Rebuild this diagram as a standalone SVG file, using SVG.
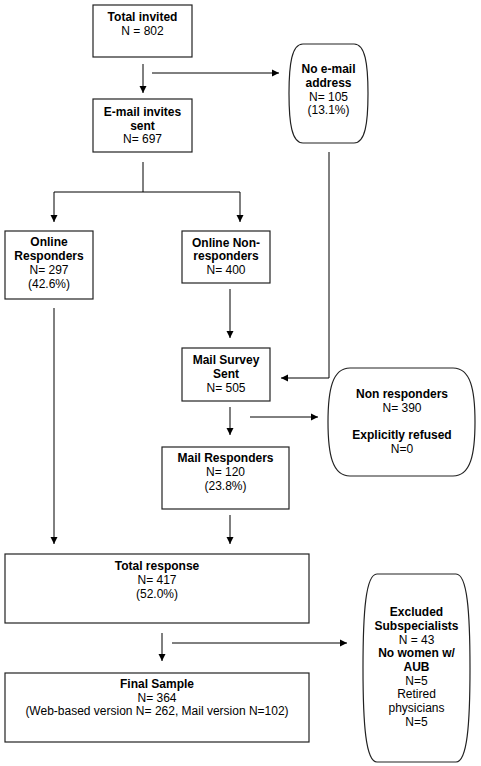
<svg xmlns="http://www.w3.org/2000/svg" width="481" height="766" viewBox="0 0 481 766">
<style>
.box{fill:#fff;stroke:#222;stroke-width:1.2}
.t{font-family:"Liberation Sans",Arial,sans-serif;font-size:12px;text-anchor:middle;fill:#000}
.b{font-weight:bold}
.c{fill:none;stroke:#000;stroke-width:1}
</style>
<defs>
<marker id="ah" markerWidth="8" markerHeight="8" refX="7" refY="4" orient="auto" markerUnits="userSpaceOnUse">
<path d="M0,0.5 L7,4 L0,7.5 Z" fill="#000"/>
</marker>
</defs>
<rect width="481" height="766" fill="#fff"/>
<g id="connectors">
<path class="c" d="M143,64 V93" marker-end="url(#ah)"/>
<path class="c" d="M152,73 H279" marker-end="url(#ah)"/>
<path class="c" d="M143,162 V192 M54,192 H240"/>
<path class="c" d="M54,192 V222" marker-end="url(#ah)"/>
<path class="c" d="M240,192 V222" marker-end="url(#ah)"/>
<path class="c" d="M329,152 V378 H281" marker-end="url(#ah)"/>
<path class="c" d="M230,289 V338" marker-end="url(#ah)"/>
<path class="c" d="M230,407 V435" marker-end="url(#ah)"/>
<path class="c" d="M250,417 H318" marker-end="url(#ah)"/>
<path class="c" d="M230,515 V544" marker-end="url(#ah)"/>
<path class="c" d="M54,308 V544" marker-end="url(#ah)"/>
<path class="c" d="M162,633 V661" marker-end="url(#ah)"/>
<path class="c" d="M172,643 H347" marker-end="url(#ah)"/>
</g>
<g id="total-invited">
<rect class="box" x="93" y="5" width="99" height="52"/>
<text class="t b" x="142.5" y="21">Total invited</text>
<text class="t" x="142.5" y="35">N = 802</text>
</g>
<g id="no-email">
<path class="box" d="M303,44 H354 C365.2,44 368,63.8 368,93.5 C368,123.2 365.2,143 354,143 H303 C291.8,143 289,123.2 289,93.5 C289,63.8 291.8,44 303,44 Z"/>
<text class="t b" x="328.5" y="73">No e-mail</text>
<text class="t b" x="328.5" y="87">address</text>
<text class="t" x="328.5" y="101">N= 105</text>
<text class="t" x="328.5" y="114">(13.1%)</text>
</g>
<g id="email-sent">
<rect class="box" x="93" y="99" width="99" height="53"/>
<text class="t b" x="142.5" y="116">E-mail invites</text>
<text class="t b" x="142.5" y="130">sent</text>
<text class="t" x="142.5" y="143">N= 697</text>
</g>
<g id="online-responders">
<rect class="box" x="5" y="231" width="88" height="68"/>
<text class="t b" x="49" y="246">Online</text>
<text class="t b" x="49" y="260">Responders</text>
<text class="t" x="49" y="274">N= 297</text>
<text class="t" x="49" y="288">(42.6%)</text>
</g>
<g id="online-nonresponders">
<rect class="box" x="182" y="231" width="88" height="52"/>
<text class="t b" x="226" y="247">Online Non-</text>
<text class="t b" x="226" y="260">responders</text>
<text class="t" x="226" y="274">N= 400</text>
</g>
<g id="mail-survey">
<rect class="box" x="182" y="348" width="88" height="53"/>
<text class="t b" x="226" y="364">Mail Survey</text>
<text class="t b" x="226" y="378">Sent</text>
<text class="t" x="226" y="392">N= 505</text>
</g>
<g id="non-responders">
<path class="box" d="M350,368 H453 C470.6,368 475,389.6 475,422 C475,454.4 470.6,476 453,476 H350 C332.4,476 328,454.4 328,422 C328,389.6 332.4,368 350,368 Z"/>
<text class="t b" x="402" y="398">Non responders</text>
<text class="t" x="402" y="412">N= 390</text>
<text class="t b" x="402" y="439">Explicitly refused</text>
<text class="t" x="402" y="453">N=0</text>
</g>
<g id="mail-responders">
<rect class="box" x="162" y="447" width="127" height="62"/>
<text class="t b" x="225.5" y="462">Mail Responders</text>
<text class="t" x="225.5" y="476">N= 120</text>
<text class="t" x="225.5" y="490">(23.8%)</text>
</g>
<g id="total-response">
<rect class="box" x="5" y="554" width="304" height="69"/>
<text class="t b" x="157" y="570">Total response</text>
<text class="t" x="157" y="584">N= 417</text>
<text class="t" x="157" y="598">(52.0%)</text>
</g>
<g id="final-sample">
<rect class="box" x="5" y="673" width="304" height="69"/>
<text class="t b" x="157" y="688">Final Sample</text>
<text class="t" x="157" y="702">N= 364</text>
<text class="t" x="157" y="715">(Web-based version N= 262, Mail version N=102)</text>
</g>
<g id="excluded">
<path class="box" d="M377,574 H456 C467.2,574 470,611.6 470,668 C470,724.4 467.2,762 456,762 H377 C365.8,762 363,724.4 363,668 C363,611.6 365.8,574 377,574 Z"/>
<text class="t b" x="416.5" y="616">Excluded</text>
<text class="t b" x="416.5" y="630">Subspecialists</text>
<text class="t" x="416.5" y="644">N = 43</text>
<text class="t b" x="416.5" y="657">No women w/</text>
<text class="t b" x="416.5" y="671">AUB</text>
<text class="t" x="416.5" y="685">N=5</text>
<text class="t" x="416.5" y="698">Retired</text>
<text class="t" x="416.5" y="712">physicians</text>
<text class="t" x="416.5" y="726">N=5</text>
</g>
</svg>
